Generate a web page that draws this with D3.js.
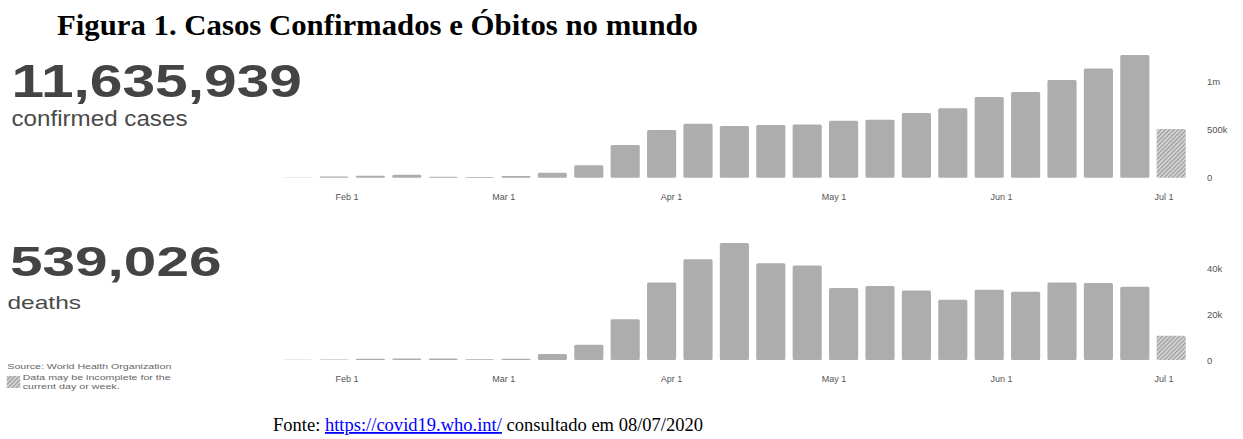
<!DOCTYPE html>
<html>
<head>
<meta charset="utf-8">
<script src="https://cdn.jsdelivr.net/npm/d3@7"></script>
<style>
  html, body { margin: 0; padding: 0; background: #fff; }
  svg { display: block; }
</style>
</head>
<body>
<svg id="chart" width="1243" height="439"></svg>
<script>
// ── Data ───────────────────────────────────────────────────────────────────
// Weekly bars (week starting Monday).
const weeks = [
  "2020-01-20", "2020-01-27", "2020-02-03", "2020-02-10", "2020-02-17",
  "2020-02-24", "2020-03-02", "2020-03-09", "2020-03-16", "2020-03-23",
  "2020-03-30", "2020-04-06", "2020-04-13", "2020-04-20", "2020-04-27",
  "2020-05-04", "2020-05-11", "2020-05-18", "2020-05-25", "2020-06-01",
  "2020-06-08", "2020-06-15", "2020-06-22", "2020-06-29", "2020-07-06",
];
const incompleteWeek = "2020-07-06";

const confirmedWeekly = [
  3000, 13000, 21000, 31000, 10000, 7000, 17000, 52000, 128000, 338000,
  493000, 558000, 534000, 545000, 551000, 589000, 600000, 669000, 717000, 834000,
  886000, 1010000, 1130000, 1269000, 503000,
];
const deathsWeekly = [
  100, 250, 500, 700, 600, 300, 500, 2600, 6600, 17800,
  33800, 44000, 51000, 42200, 41200, 31400, 32300, 30300, 26300, 30600,
  29800, 33800, 33600, 32000, 10600,
];

const confirmedTotal = "11,635,939";
const deathsTotal = "539,026";

const confirmedTicks = [0, 500000, 1000000];
const confirmedTickLabels = ["0", "500k", "1m"];
const deathsTicks = [0, 20000, 40000];
const deathsTickLabels = ["0", "20k", "40k"];

const monthTicks = ["2020-02-01", "2020-03-01", "2020-04-01", "2020-05-01", "2020-06-01", "2020-07-01"];

const titleText = "Figura 1. Casos Confirmados e Óbitos no mundo";
const sourceText = "Source: World Health Organization";
const noteLines = ["Data may be incomplete for the", "current day or week."];

// ── Setup ──────────────────────────────────────────────────────────────────
const svg = d3.select("#chart");
const SANS = "'Liberation Sans', Arial, Helvetica, sans-serif";
const SERIF = "'Liberation Serif', 'Times New Roman', serif";
const BAR = "#adadad";
const INK = "#444";

svg.append("rect").attr("width", 1243).attr("height", 439).attr("fill", "#fff");

// hatch for the incomplete week
const defs = svg.append("defs");
const pat = defs.append("pattern")
  .attr("id", "hatch")
  .attr("patternUnits", "userSpaceOnUse")
  .attr("width", 3).attr("height", 3)
  .attr("patternTransform", "rotate(45)");
pat.append("rect").attr("width", 3).attr("height", 3).attr("fill", "#dedede");
pat.append("line")
  .attr("x1", 0.75).attr("y1", 0).attr("x2", 0.75).attr("y2", 3)
  .attr("stroke", "#999").attr("stroke-width", 1.4);

// ── Scales ─────────────────────────────────────────────────────────────────
// Bars sit on a band scale; month labels come from a time scale calibrated
// to the dashboard's own (slightly offset) axis.
const x = d3.scaleBand()
  .domain(weeks)
  .range([279.4, 1189.4])
  .paddingInner(0.2)
  .paddingOuter(0.1);

const xTime = d3.scaleUtc()
  .domain([new Date("2020-01-20"), new Date("2020-07-06")])
  .range([281.5, 1190.5]);

const panels = [
  {
    values: confirmedWeekly, ticks: confirmedTicks, labels: confirmedTickLabels,
    y: d3.scaleLinear().domain([0, 1000000]).range([177.7, 81]),
    base: 177.7,
  },
  {
    values: deathsWeekly, ticks: deathsTicks, labels: deathsTickLabels,
    y: d3.scaleLinear().domain([0, 40000]).range([360, 268.3]),
    base: 360,
  },
];

// ── Panels ─────────────────────────────────────────────────────────────────
panels.forEach(p => {
  const g = svg.append("g");

  g.selectAll("rect.bar")
    .data(weeks.map((w, i) => ({ week: w, value: p.values[i] })))
    .join("rect")
    .attr("class", "bar")
    .attr("x", d => x(d.week))
    .attr("width", x.bandwidth())
    .attr("y", d => p.y(d.value))
    .attr("height", d => p.y(0) - p.y(d.value))
    .attr("rx", 1.5)
    .attr("fill", d => d.week === incompleteWeek ? "url(#hatch)" : BAR);

  // month labels
  const xAxis = g.append("g")
    .attr("transform", `translate(0,${p.base})`)
    .call(d3.axisBottom(xTime)
      .tickValues(monthTicks.map(d => new Date(d)))
      .tickFormat(d3.utcFormat("%b %-d"))
      .tickSize(0)
      .tickPadding(15.5));
  xAxis.select(".domain").remove();
  xAxis.selectAll("text")
    .attr("font-family", SANS).attr("font-size", 9).attr("fill", "#555");

  // value labels on the right
  const yAxis = g.append("g")
    .attr("transform", "translate(1207,0)")
    .call(d3.axisRight(p.y)
      .tickValues(p.ticks)
      .tickFormat((d, i) => p.labels[i])
      .tickSize(0)
      .tickPadding(0));
  yAxis.select(".domain").remove();
  yAxis.selectAll("text")
    .attr("font-family", SANS).attr("font-size", 9.5).attr("fill", "#555");
});

// ── Headline numbers ───────────────────────────────────────────────────────
function stretched(text, xPos, yPos, size, len, weight, fill) {
  svg.append("text")
    .attr("x", xPos).attr("y", yPos)
    .attr("font-family", SANS)
    .attr("font-size", size)
    .attr("font-weight", weight)
    .attr("fill", fill)
    .attr("textLength", len)
    .attr("lengthAdjust", "spacingAndGlyphs")
    .text(text);
}

stretched(confirmedTotal, 11.5, 96.7, 46.5, 290.5, "bold", INK);
stretched("confirmed cases", 11.5, 126, 22, 176, "normal", "#4a4a4a");
stretched(deathsTotal, 10, 275.5, 42.5, 211.5, "bold", INK);
stretched("deaths", 7.5, 308.5, 19, 73.5, "normal", "#4a4a4a");

// ── Source + note ──────────────────────────────────────────────────────────
stretched(sourceText, 7.3, 368.5, 8, 164, "normal", "#666");
stretched(noteLines[0], 22.7, 380, 8, 148, "normal", "#666");
stretched(noteLines[1], 22.7, 388.5, 8, 97, "normal", "#666");
svg.append("rect")
  .attr("x", 6.7).attr("y", 376).attr("width", 13.5).attr("height", 12)
  .attr("fill", "url(#hatch)");

// ── Title + footer ─────────────────────────────────────────────────────────
svg.append("text")
  .attr("x", 57).attr("y", 35)
  .attr("font-family", SERIF)
  .attr("font-size", 29)
  .attr("font-weight", "bold")
  .attr("fill", "#000")
  .attr("textLength", 641)
  .attr("lengthAdjust", "spacingAndGlyphs")
  .text(titleText);

const foot = svg.append("text")
  .attr("x", 273).attr("y", 431)
  .attr("font-family", SERIF)
  .attr("font-size", 18)
  .attr("fill", "#000")
  .attr("textLength", 430)
  .attr("lengthAdjust", "spacingAndGlyphs");
foot.append("tspan").text("Fonte: ");
foot.append("tspan")
  .attr("fill", "#0000ff")
  .attr("text-decoration", "underline")
  .style("text-decoration", "underline")
  .text("https://covid19.who.int/");
foot.append("tspan").text(" consultado em 08/07/2020");
</script>
</body>
</html>
